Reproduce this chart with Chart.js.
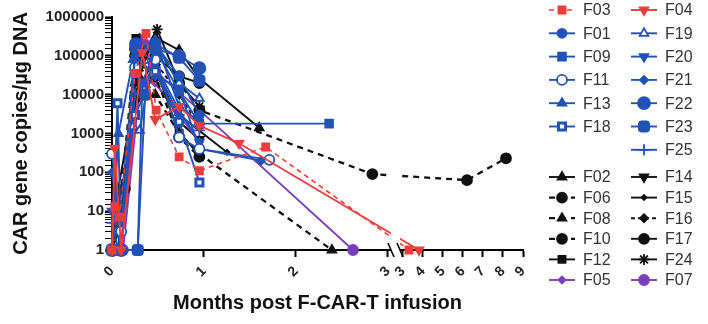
<!DOCTYPE html>
<html>
<head>
<meta charset="utf-8">
<script src="https://cdn.jsdelivr.net/npm/chart.js@4.4.1/dist/chart.umd.min.js"></script>
<style>
  html, body { margin: 0; background: #fff; }
  #wrap { width: 708px; height: 324px; }
</style>
</head>
<body>
<div id="wrap"><canvas id="carChart"></canvas></div>
<script>
// months after infusion (x) and CAR gene copies/µg DNA (y), per patient
const F03_M = [0, 0.03, 0.08, 0.25, 0.37, 0.48, 0.73, 0.95, 1.67, 3.3];
const F03_V = [1, 13, 7, 35000, 380000, 4000, 250, 110, 450, 1];
const F04_M = [0, 0.03, 0.1, 0.33, 0.47, 0.73, 0.95, 1.38, 3.8];
const F04_V = [1, 420, 1, 120000, 2300, 5000, 1600, 560, 1];
const F22_M = [0, 0.1, 0.26, 0.47, 0.73, 0.95];
const F22_V = [1, 1, 200000, 150000, 100000, 48000];
const F23_M = [0, 0.28, 0.36, 0.47, 0.73, 0.95];
const F23_V = [1, 1, 10000, 200000, 90000, 23000];
const F01_M = [0, 0.1, 0.25, 0.47, 0.73, 0.95];
const F01_V = [1, 1, 150000, 200000, 30000, 3000];
const F09_M = [0, 0.28, 0.33, 0.47, 0.73, 0.95, 2.36];
const F09_V = [1, 1, 20000, 150000, 12000, 1800, 1800];
const F11_M = [0, 0.1, 0.25, 0.47, 0.73, 0.95, 1.71];
const F11_V = [300, 3, 50000, 80000, 800, 400, 210];
const F13_M = [0, 0.07, 0.23, 0.47, 0.73, 0.95];
const F13_V = [1, 1000, 80000, 250000, 5000, 2000];
const F18_M = [0, 0.06, 0.1, 0.25, 0.47, 0.73, 0.95];
const F18_V = [1, 6000, 1, 3000, 40000, 2000, 55];
const F19_M = [0, 0.1, 0.23, 0.3, 0.47, 0.73, 0.95];
const F19_V = [1, 1, 1500, 1200, 200000, 20000, 8000];
const F20_M = [0, 0.1, 0.25, 0.47, 0.73, 0.95];
const F20_V = [10, 1, 200000, 60000, 4000, 600];
const F21_M = [0, 0.08, 0.25, 0.47, 0.73, 0.95, 1.62];
const F21_V = [100, 5, 100000, 30000, 15000, 400, 200];
const F25_M = [0, 0.07, 0.25, 0.47, 0.73, 0.95];
const F25_V = [5, 1, 10000, 50000, 3000, 1200];
const F02_M = [0, 0.07, 0.25, 0.47, 0.73, 0.95, 1.6];
const F02_V = [1, 1, 20000, 300000, 140000, 26000, 1400];
const F06_M = [0, 0.14, 0.25, 0.47, 0.73, 0.95];
const F06_V = [1, 38, 100000, 30000, 800, 250];
const F08_M = [0, 0.07, 0.25, 0.47, 0.73, 0.95, 2.39];
const F08_V = [1, 1, 50000, 10000, 1000, 300, 1];
const F10_M = [0, 0.1, 0.25, 0.47, 0.73, 0.95, 2.83, 6.2, 8.15];
const F10_V = [1, 30, 150000, 200000, 20000, 4000, 90, 63, 230];
const F12_M = [0, 0.07, 0.26, 0.47, 0.73, 0.95];
const F12_V = [1, 1, 280000, 50000, 1000, 300];
const F05_M = [0, 0.1, 0.3, 0.47, 0.73, 0.95];
const F05_V = [1, 1, 300000, 20000, 3000, 600];
const F14_M = [0, 0.07, 0.25, 0.47, 0.73, 0.95];
const F14_V = [1, 40, 10000, 50000, 2000, 700];
const F15_M = [0, 0.07, 0.25, 0.47, 0.73, 1.25];
const F15_V = [1, 3, 30000, 20000, 3000, 330];
const F16_M = [0, 0.1, 0.3, 0.47, 0.73, 0.95];
const F16_V = [1, 1, 100000, 70000, 10000, 1500];
const F17_M = [0, 0.07, 0.25, 0.47, 0.73, 0.95];
const F17_V = [1, 1, 8000, 100000, 30000, 20000];
const F24_M = [0, 0.08, 0.3, 0.49, 0.73, 0.95];
const F24_V = [1, 1, 50000, 480000, 20000, 5000];
const F07_M = [0, 0.12, 0.35, 0.47, 0.95, 2.62];
const F07_V = [1, 1, 200000, 40000, 4000, 1];

// x axis: linear 0-3 months, then a break and a squeezed 3-9 segment
const X_TICKS_LEFT = [0, 1, 2, 3];
const X_TICKS_RIGHT = [3, 4, 5, 6, 7, 8, 9];
const Y_TICK_LABELS = [1, 10, 100, 1000, 10000, 100000, 1000000];

const LEGEND_LEFT = ['F03', 'F01', 'F09', 'F11', 'F13', 'F18', null, 'F02', 'F06', 'F08', 'F10', 'F12', 'F05'];
const LEGEND_RIGHT = ['F04', 'F19', 'F20', 'F21', 'F22', 'F23', 'F25', 'F14', 'F15', 'F16', 'F17', 'F24', 'F07'];

const RED = '#ee3d3d';
const BLUE = '#2152b5';
const BLACK = '#111111';
const PURPLE = '#7b40b8';

const BREAK_AT = 3;
const GAP = 0.163;
const SQUEEZE = 0.2174;
const X_END = 9;

const fold = m => m <= BREAK_AT ? m : BREAK_AT + GAP + (m - BREAK_AT) * SQUEEZE;

class BrokenLinearScale extends Chart.LinearScale {
  determineDataLimits() {
    this.min = 0;
    this.max = fold(X_END);
  }
  buildTicks() {
    return [
      ...X_TICKS_LEFT.map(m => ({ value: m })),
      ...X_TICKS_RIGHT.map(m => ({ value: BREAK_AT + GAP + (m - BREAK_AT) * SQUEEZE }))
    ];
  }
  getPixelForValue(m) {
    return super.getPixelForValue(fold(m));
  }
  getPixelForTick(i) {
    return super.getPixelForValue(this.ticks[i].value);
  }
}
BrokenLinearScale.id = 'broken';
BrokenLinearScale.defaults = Chart.LinearScale.defaults;
Chart.register(BrokenLinearScale);

const STYLES = {
  F03: { color: RED, point: 'rect', dash: [5, 4], width: 1.6 },
  F04: { color: RED, point: 'triangle', rot: 180 },
  F22: { color: BLUE, point: 'circle', r: 6 },
  F23: { color: BLUE, point: 'rectRounded', r: 6 },
  F01: { color: BLUE, point: 'circle', r: 4.5 },
  F09: { color: BLUE, point: 'rect', r: 5.5 },
  F11: { color: BLUE, point: 'circle', open: true },
  F13: { color: BLUE, point: 'triangle' },
  F18: { color: BLUE, point: 'rect', open: true, pbw: 3 },
  F19: { color: BLUE, point: 'triangle', open: true },
  F20: { color: BLUE, point: 'triangle', rot: 180 },
  F21: { color: BLUE, point: 'rectRot', r: 4 },
  F25: { color: BLUE, point: 'cross', r: 5.5 },
  F02: { color: BLACK, point: 'triangle' },
  F06: { color: BLACK, point: 'circle', dash: [6, 5], width: 2.3 },
  F08: { color: BLACK, point: 'triangle', dash: [6, 5], width: 2.3 },
  F10: { color: BLACK, point: 'circle', dash: [6, 5], width: 2.3 },
  F12: { color: BLACK, point: 'rect' },
  F05: { color: PURPLE, point: 'rectRot', r: 3.5 },
  F14: { color: BLACK, point: 'triangle', rot: 180 },
  F15: { color: BLACK, point: 'rectRot', r: 2.5 },
  F16: { color: BLACK, point: 'rectRot', r: 4, dash: [4, 3] },
  F17: { color: BLACK, point: 'circle' },
  F24: { color: BLACK, point: 'star', r: 5.5 },
  F07: { color: PURPLE, point: 'circle' }
};

const SERIES = [
  ['F03', F03_M, F03_V], ['F04', F04_M, F04_V], ['F22', F22_M, F22_V], ['F23', F23_M, F23_V],
  ['F01', F01_M, F01_V], ['F09', F09_M, F09_V], ['F11', F11_M, F11_V], ['F13', F13_M, F13_V],
  ['F18', F18_M, F18_V], ['F19', F19_M, F19_V], ['F20', F20_M, F20_V], ['F21', F21_M, F21_V],
  ['F25', F25_M, F25_V], ['F02', F02_M, F02_V], ['F06', F06_M, F06_V], ['F08', F08_M, F08_V],
  ['F10', F10_M, F10_V], ['F12', F12_M, F12_V], ['F05', F05_M, F05_V], ['F14', F14_M, F14_V],
  ['F15', F15_M, F15_V], ['F16', F16_M, F16_V], ['F17', F17_M, F17_V], ['F24', F24_M, F24_V],
  ['F07', F07_M, F07_V]
];

function makeDataset([label, months, values]) {
  const s = STYLES[label];
  return {
    label,
    data: months.map((m, i) => ({ x: m, y: values[i] })),
    borderColor: s.color,
    borderWidth: s.width || 1.9,
    borderDash: s.dash || [],
    pointStyle: s.point,
    pointRotation: s.rot || 0,
    pointRadius: s.r || 5,
    pointBorderWidth: s.pbw || 1.8,
    pointBorderColor: s.color,
    pointBackgroundColor: s.open ? '#fff' : s.color,
    tension: 0,
    clip: false
  };
}

const isDecade = v => Y_TICK_LABELS.includes(Math.round(v));

// white band + slash marks where the x axis is broken
const axisBreak = {
  id: 'axisBreak',
  afterDatasetsDraw(chart) {
    const { ctx, chartArea, scales: { x } } = chart;
    const a = x.getPixelForTick(X_TICKS_LEFT.length - 1) + 3;
    const b = x.getPixelForTick(X_TICKS_LEFT.length) - 3;
    ctx.save();
    ctx.fillStyle = '#fff';
    ctx.fillRect(a, chartArea.top - 6, b - a, chartArea.bottom - chartArea.top + 9);
    ctx.strokeStyle = '#000';
    ctx.lineWidth = 1.6;
    [a, b].forEach(px => {
      ctx.beginPath();
      ctx.moveTo(px - 3, chartArea.bottom - 7);
      ctx.lineTo(px + 3, chartArea.bottom + 7);
      ctx.stroke();
    });
    ctx.restore();
  }
};

// two-column legend with line + marker samples
const sideLegend = {
  id: 'sideLegend',
  afterDraw(chart) {
    const { ctx } = chart;
    const byLabel = {};
    chart.data.datasets.forEach(d => { byLabel[d.label] = d; });
    [LEGEND_LEFT, LEGEND_RIGHT].forEach((col, c) => {
      const x0 = c === 0 ? 549 : 631;
      col.forEach((name, r) => {
        if (!name) return;
        const d = byLabel[name];
        const y = r < 7 ? 10 + r * 23.3 : 177 + (r - 7) * 20.6;
        ctx.save();
        ctx.strokeStyle = d.borderColor;
        ctx.lineWidth = d.borderWidth;
        ctx.setLineDash(d.borderDash);
        ctx.beginPath();
        ctx.moveTo(x0, y);
        ctx.lineTo(x0 + 26, y);
        ctx.stroke();
        ctx.setLineDash([]);
        ctx.fillStyle = d.pointBackgroundColor;
        ctx.strokeStyle = d.pointBorderColor;
        ctx.lineWidth = d.pointBorderWidth;
        Chart.helpers.drawPoint(ctx, {
          pointStyle: d.pointStyle,
          rotation: d.pointRotation,
          radius: d.pointRadius,
          borderWidth: d.pointBorderWidth
        }, x0 + 13, y);
        ctx.fillStyle = '#333';
        ctx.font = '16px "Liberation Sans", Arial, sans-serif';
        ctx.textBaseline = 'middle';
        ctx.fillText(name, x0 + 34, y + 1);
        ctx.restore();
      });
    });
  }
};

new Chart(document.getElementById('carChart'), {
  type: 'line',
  data: { datasets: SERIES.map(makeDataset) },
  options: {
    responsive: true,
    maintainAspectRatio: false,
    animation: false,
    layout: { padding: { left: 0, top: 17, right: 185, bottom: 0 } },
    plugins: { legend: { display: false }, tooltip: { enabled: false } },
    scales: {
      x: {
        type: 'broken',
        border: { color: '#000', width: 2 },
        grid: { drawOnChartArea: false, tickLength: 7, tickColor: '#000', tickWidth: 2 },
        ticks: {
          autoSkip: false,
          maxRotation: 45,
          minRotation: 45,
          padding: 6,
          color: '#222',
          font: { family: '"Liberation Sans", Arial, sans-serif', size: 14, weight: 'bold' },
          callback: (v, i) => String(X_TICKS_LEFT.concat(X_TICKS_RIGHT)[i])
        },
        title: {
          display: true,
          text: 'Months post F-CAR-T infusion',
          color: '#111',
          padding: 9,
          font: { family: '"Liberation Sans", Arial, sans-serif', size: 20, weight: 'bold' }
        },
        afterFit: s => { s.height = 74; }
      },
      y: {
        type: 'logarithmic',
        min: 1,
        max: 1000000,
        border: { color: '#000', width: 2 },
        grid: {
          drawOnChartArea: false,
          tickLength: 7,
          tickColor: '#000',
          tickWidth: c => isDecade(c.tick.value) ? 2 : 1
        },
        ticks: {
          autoSkip: false,
          padding: 1,
          color: '#222',
          font: { family: '"Liberation Sans", Arial, sans-serif', size: 15, weight: 'bold' },
          callback: v => isDecade(v) ? String(Math.round(v)) : ''
        },
        title: {
          display: true,
          text: 'CAR gene copies/µg DNA',
          color: '#111',
          padding: 9,
          font: { family: '"Liberation Sans", Arial, sans-serif', size: 20, weight: 'bold' }
        },
        afterFit: s => { s.width = 112; }
      }
    }
  },
  plugins: [axisBreak, sideLegend]
});
</script>
</body>
</html>
